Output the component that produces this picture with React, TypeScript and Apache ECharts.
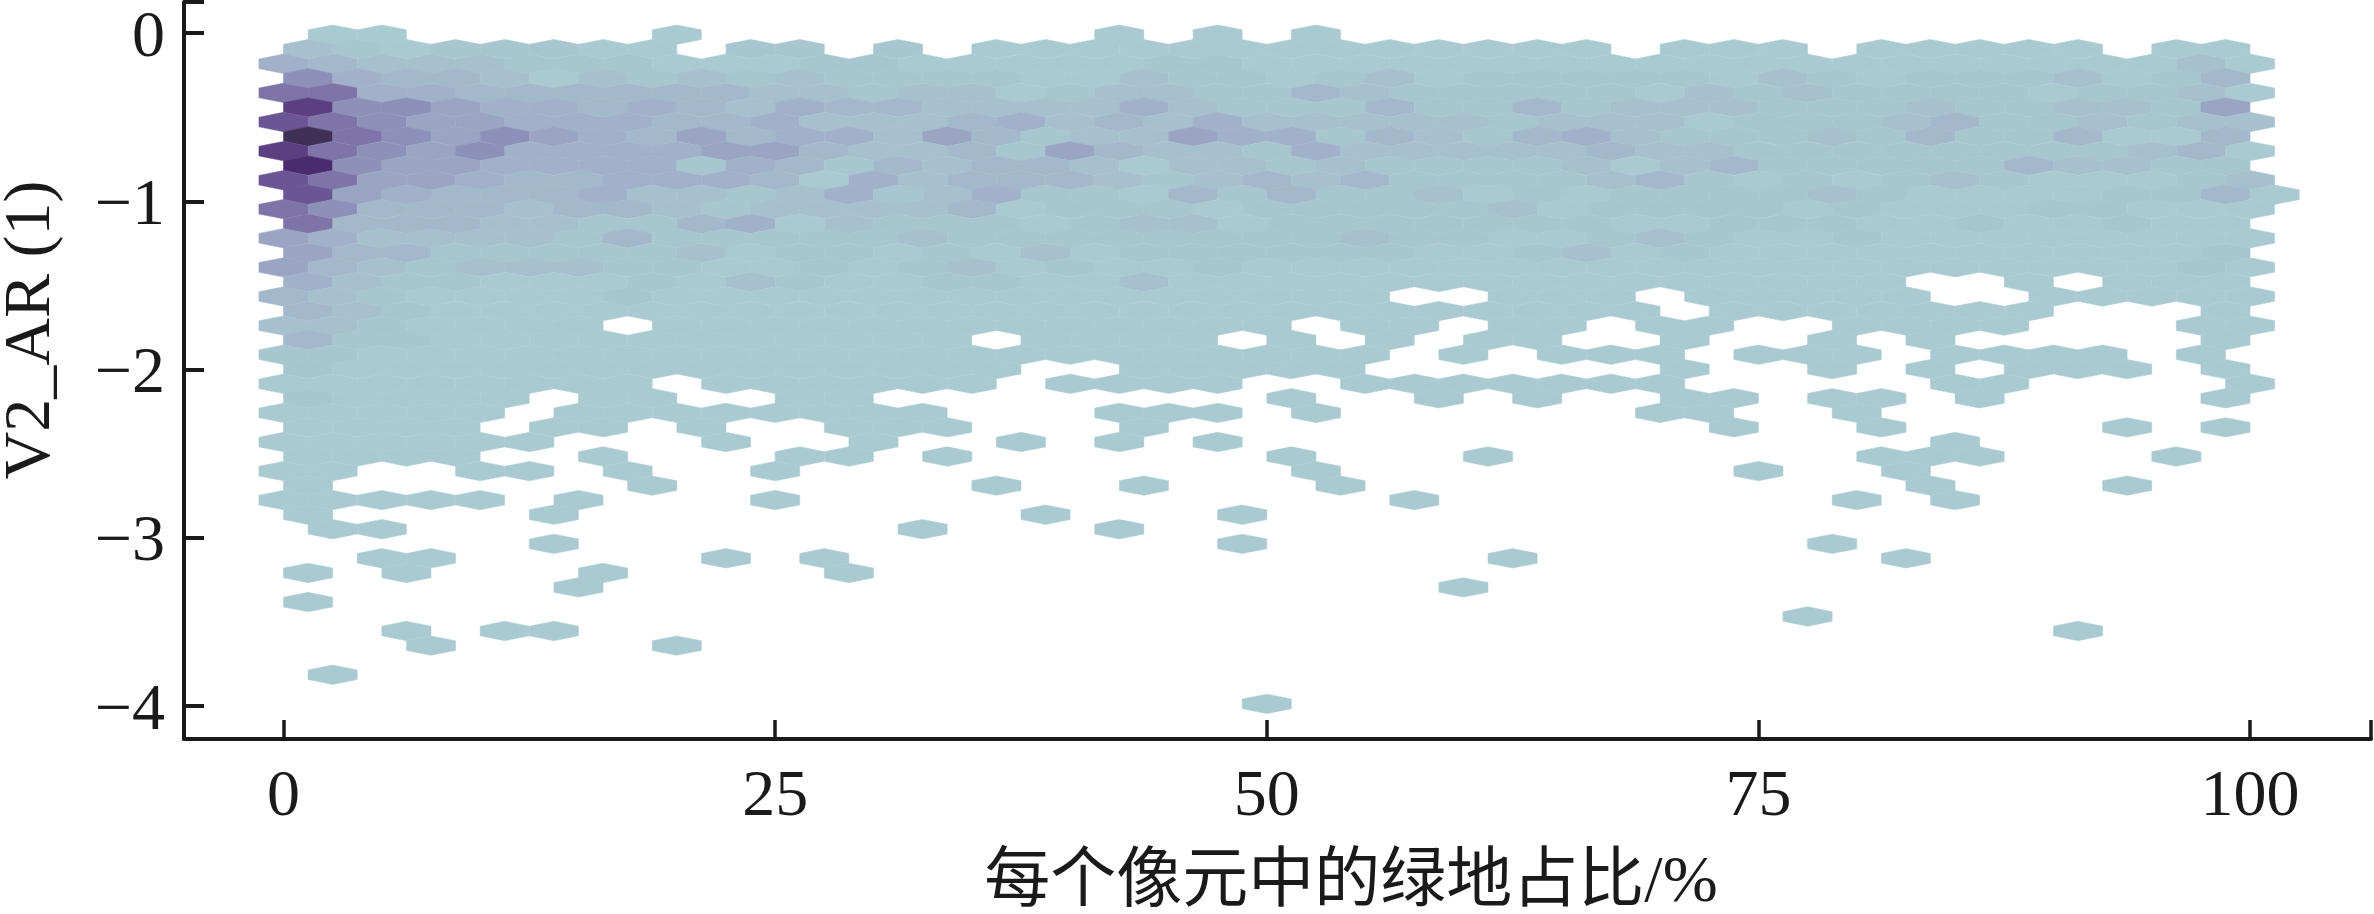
import React, { useEffect, useRef } from "react";
import * as echarts from "echarts";

// Tick labels
const xTicks = [0, 25, 50, 75, 100];
const yTicks = [0, -1, -2, -3, -4];
const xName = "每个像元中的绿地占比/%";
const yName = "V2_AR (1)";

// Axis range
const xMin = -5.06;
const xMax = 106.15;
const yMax = 0.184;
const yMin = -4.196;

// Hex bin lattice: width in x and the y of every bin row
const hexWidth = 2.5;
const rowStep = 0.08645;
const yBins = [
  -0.01, -0.096, -0.183, -0.269, -0.356, -0.442, -0.529, -0.615, -0.702, -0.788,
  -0.875, -0.961, -1.047, -1.134, -1.22, -1.307, -1.393, -1.48, -1.566, -1.653,
  -1.739, -1.825, -1.912, -1.998, -2.085, -2.171, -2.258, -2.344, -2.431, -2.517,
  -2.604, -2.69, -2.776, -2.863, -2.949, -3.036, -3.122, -3.209, -3.295, -3.382,
  -3.468, -3.554, -3.641, -3.727, -3.814, -3.9, -3.987,
];

// Density level of every bin (base 12 digit), "." = empty bin; even rows start at x=0, odd rows at x=1.25
const levelsTop = [
  ".00.. ...0. ..... ..0.0 .0... ..... ..... ..... ..",
  "21011 100.1 1.1.0 00000 00000 00.00 0.000 00.00 ..",
  "43222 11100 01100 00011 00000 00000 00000 00002 0.",
  "64332 02121 21111 00211 01201 11110 21011 12013 ..",
  "77443 33333 22122 01221 13211 11102 12111 10112 0.",
  "96654 43432 43322 22421 11311 31222 11121 12215 ..",
  "87655 44433 42223 42324 22222 12220 11123 11212 2.",
  "b7656 54353 44253 12254 41321 34211 12131 13003 ..",
  "97656 44445 53223 15322 14222 22322 11111 11123 0.",
  "a6554 44414 31323 32022 12111 12023 11111 32211 ..",
  "87554 33444 30423 33212 32311 11231 01012 10001 2.",
  "85433 34221 24124 11031 31120 10111 12100 00113 0.",
];
const levelsMiddle = [
  "76333 23321 22223 01110 11111 20111 10100 01100 0.",
  "73332 21134 02111 01220 11111 11001 11001 00100 ..",
  "54222 21311 11121 11111 11211 00121 00100 00000 0.",
  "53311 11120 11010 20111 11100 12010 00000 00001 ..",
  "53212 22110 01012 01001 00000 00000 00000 00001 0.",
  "42110 00102 10011 00200 00000 00000 000.. 0.000 ..",
  "32100 00100 00000 00000 000.. 000.0 0000. .0000 0.",
  "32100 00000 00000 00000 00000 000.0 00000 0...0 ..",
  "22100 00.00 00000 00000 0.00. 00.00 ..000 0...0 0.",
  "31100 00000 0000. 0000. 0.0.0 0..0. .0.0. ....0 ..",
  "11000 00000 00000 00000 000.0 .000. 000.0 000.0 ..",
  "10000 00000 00000 ..000 00... ...0. .0.0. 000.0 ..",
];
const levelsLower = [
  "00000 000.0 00000 .0000 ..000 0000. ....0 0.... 0.",
  "10000 .00.. 00... ..... 0..0. 0..00 .00.0 ....0 ..",
  "00000 .0000 0000. ..000 .0... ...00 ..0.. ..... ..",
  "0000. 00.0. .000. ..0.. ..... ....0 ..0.. ..0.0 ..",
  "00000 0...0 ..0.. 0.0.0 ..... ..... ....0 ..... ..",
  "0000. .0... 00.0. ..... 0...0 ..... ..000 ...0. ..",
  "00..0 0.0.. 0.... ..... .0... ..... 0..0. ..... ..",
  "0.... ..0.. ....0 ..0.. .0... ..... ...0. ..0.. ..",
  "00000 .0... 0.... ..... ...0. ..... ..0.0 ..... ..",
  "0.... 0.... ..... 0...0 ..... ..... ..... ..... ..",
  ".00.. ..... ...0. ..0.. ..... ..... ..... ..... ..",
];
const levelsSparse = [
  "..... 0.... ..... ....0 ..... ..... .0... ..... ..",
  "..00. ....0 .0... ..... ..... 0.... ...0. ..... ..",
  "0.0.. .0... .0... ..... ..... ..... ..... ..... ..",
  "..... .0... ..... ..... ....0 ..... ..... ..... ..",
  "0.... ..... ..... ..... ..... ..... ..... ..... ..",
  "..... ..... ..... ..... ..... ..... .0... ..... ..",
  "..0.0 0.... ..... ..... ..... ..... ..... .0... ..",
  "...0. ...0. ..... ..... ..... ..... ..... ..... ..",
  "..... ..... ..... ..... ..... ..... ..... ..... ..",
  ".0... ..... ..... ..... ..... ..... ..... ..... ..",
  "..... ..... ..... ..... ..... ..... ..... ..... ..",
  "..... ..... ..... ..... 0.... ..... ..... ..... ..",
];
const levelRows = [...levelsTop, ...levelsMiddle, ...levelsLower, ...levelsSparse];

// Colours of density levels 0..11
const palette = [
  "#aacad2", "#a8c6d0", "#a6c0ce", "#a3b9cb", "#a0b1c9", "#99a5c3",
  "#8d90b8", "#7e74a8", "#6b5594", "#5c3f83", "#4a2b70", "#3f3055",
];

const INK = "#1a1a1a";
const FONT = '"Liberation Serif", "Noto Sans CJK SC", serif';

function hexData() {
  const out: number[][] = [];
  levelRows.forEach((row, r) => {
    const cells = row.replace(/\s/g, "");
    for (let k = 0; k < cells.length; k++) {
      if (cells[k] === ".") continue;
      out.push([(r % 2 ? hexWidth / 2 : 0) + k * hexWidth, yBins[r], parseInt(cells[k], 12)]);
    }
  });
  return out;
}

function renderHex(_: any, api: any) {
  const c = api.coord([api.value(0), api.value(1)]);
  const size = api.size([hexWidth, rowStep]);
  const w = size[0] / 2;
  const s = (size[1] * 2) / 3;
  const color = api.visual("color");
  return {
    type: "polygon",
    shape: {
      points: [
        [c[0], c[1] - s],
        [c[0] + w, c[1] - s / 2],
        [c[0] + w, c[1] + s / 2],
        [c[0], c[1] + s],
        [c[0] - w, c[1] + s / 2],
        [c[0] - w, c[1] - s / 2],
      ],
    },
    style: { fill: color, stroke: color, lineWidth: 0.5 },
  };
}

export default function App() {
  const ref = useRef<HTMLDivElement>(null);
  useEffect(() => {
    const chart = echarts.init(ref.current!, undefined, { renderer: "svg" });
    chart.setOption({
      animation: false,
      backgroundColor: "#ffffff",
      grid: { left: 184, right: 3, top: 2, bottom: 175, containLabel: false },
      xAxis: {
        type: "value",
        min: xMin,
        max: xMax,
        splitLine: { show: false },
        axisLine: { onZero: false, lineStyle: { color: INK, width: 4 } },
        axisTick: { inside: true, length: 19, customValues: [...xTicks, xMax], lineStyle: { color: INK, width: 3.5 } },
        axisLabel: { customValues: xTicks, margin: 20, color: INK, fontFamily: FONT, fontSize: 66 },
      },
      yAxis: {
        type: "value",
        min: yMin,
        max: yMax,
        splitLine: { show: false },
        axisLine: { onZero: false, lineStyle: { color: INK, width: 4 } },
        axisTick: { inside: true, length: 20, customValues: [...yTicks, yMax], lineStyle: { color: INK, width: 4 } },
        axisLabel: {
          customValues: yTicks,
          margin: 19,
          color: INK,
          fontFamily: FONT,
          fontSize: 66,
          formatter: (v: number) => String(v).replace("-", "\u2212"),
        },
      },
      visualMap: {
        show: false,
        type: "continuous",
        min: 0,
        max: palette.length - 1,
        dimension: 2,
        seriesIndex: 0,
        inRange: { color: palette },
      },
      series: [
        {
          type: "custom",
          coordinateSystem: "cartesian2d",
          renderItem: renderHex,
          encode: { x: 0, y: 1 },
          data: hexData(),
          silent: true,
          z: 1,
        },
      ],
      graphic: [
        {
          type: "text",
          x: 1351,
          y: 878,
          style: { text: xName, fill: INK, font: `66px ${FONT}`, textAlign: "center", textVerticalAlign: "middle" },
        },
        {
          type: "text",
          x: 26,
          y: 330,
          rotation: Math.PI / 2,
          style: { text: yName, fill: INK, font: `66px ${FONT}`, textAlign: "center", textVerticalAlign: "middle" },
        },
      ],
    });
    return () => chart.dispose();
  }, []);
  return <div ref={ref} style={{ position: "absolute", left: 0, top: 0, width: 2374, height: 914 }} />;
}
